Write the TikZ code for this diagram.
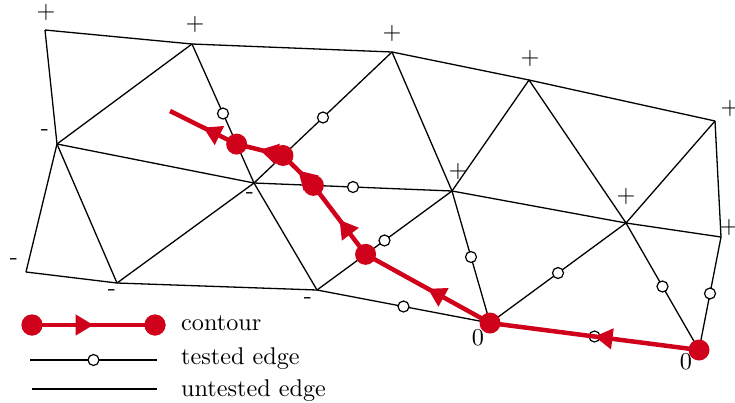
\documentclass[tikz,border=0pt]{standalone}
\usepackage{graphicx}
\usetikzlibrary{calc,arrows.meta,decorations.markings}
\definecolor{cred}{RGB}{208,2,27}
\newcommand{\bigtxt}[1]{\scalebox{2.42}{#1}}
\begin{document}
\begin{tikzpicture}[x=1pt,y=-1pt,
  edge/.style={line width=1.3pt},
  tmark/.style={circle,draw,fill=white,line width=1.2pt,inner sep=0pt,minimum size=11pt},
  cseg/.style={cred,line width=4.5pt,postaction={decorate},
    decoration={markings,mark=at position 0.5 with {\arrow{Triangle[length=18pt,width=20pt,color=cred,fill=cred]}}}},
  cdot/.style={circle,fill=cred,inner sep=0pt,minimum size=21pt},
  lab/.style={font=\fontsize{10}{12}\selectfont,inner sep=0pt},
  legtext/.style={font=\fontsize{10}{12}\selectfont,inner sep=0pt,anchor=base west}
]
\useasboundingbox (0,0) rectangle (735,402);
% vertices
\coordinate (A) at (45,30);
\coordinate (B) at (192,44);
\coordinate (C) at (392,52);
\coordinate (D) at (529,80);
\coordinate (E) at (715,121);
\coordinate (F) at (57,144);
\coordinate (G) at (254,183);
\coordinate (H) at (452,191);
\coordinate (I) at (626,223);
\coordinate (J) at (721,237);
\coordinate (K) at (26,272);
\coordinate (L) at (117,283);
\coordinate (M) at (317,290);
\coordinate (N) at (490,323);
\coordinate (O) at (699,350);
% vertex labels
\node[lab] (lA) at (46,12) {\bigtxt{+}};
\node[lab] (lB) at (195,24) {\bigtxt{+}};
\node[lab] (lC) at (392,33) {\bigtxt{+}};
\node[lab] (lD) at (530,58) {\bigtxt{+}};
\node[lab] (lE) at (730,108) {\bigtxt{+}};
\node[lab] (lH) at (458,171) {\bigtxt{+}};
\node[lab] (lI) at (626,196) {\bigtxt{+}};
\node[lab] (lJ) at (729,227) {\bigtxt{+}};
\node[lab] (lF) at (45,133) {\bigtxt{-}};
\node[lab] (lG) at (250,196) {\bigtxt{-}};
\node[lab] (lK) at (14,262) {\bigtxt{-}};
\node[lab] (lL) at (112,293) {\bigtxt{-}};
\node[lab] (lM) at (308,301) {\bigtxt{-}};
\node[lab] (lN) at (478,338) {\bigtxt{0}};
\node[lab] (lO) at (686,362) {\bigtxt{0}};
% untested edges
\draw[edge] (A) -- (B) -- (C) -- (D) -- (E);
\draw[edge] (A) -- (F);
\draw[edge] (F) -- (B);
\draw[edge] (F) -- (K);
\draw[edge] (F) -- (L);
\draw[edge] (F) -- (G);
\draw[edge] (G) -- (L);
\draw[edge] (G) -- (M);
\draw[edge] (C) -- (H);
\draw[edge] (H) -- (D);
\draw[edge] (D) -- (I);
\draw[edge] (H) -- (I);
\draw[edge] (I) -- (J);
\draw[edge] (I) -- (E);
\draw[edge] (E) -- (J);
\draw[edge] (K) -- (L);
\draw[edge] (L) -- (M);
% tested edges
\draw[edge] (B) -- node[tmark] (tBG) {} (G);
\draw[edge] (C) -- node[tmark] (tCG) {} (G);
\draw[edge] (G) -- node[tmark] (tGH) {} (H);
\draw[edge] (M) -- node[tmark] (tMH) {} (H);
\draw[edge] (M) -- node[tmark] (tMN) {} (N);
\draw[edge] (H) -- node[tmark] (tHN) {} (N);
\draw[edge] (N) -- node[tmark] (tNI) {} (I);
\draw[edge] (I) -- node[tmark] (tIO) {} (O);
\draw[edge] (J) -- node[tmark] (tJO) {} (O);
\draw[edge] (N) -- node[tmark] (tNO) {} (O);
% contour points
\coordinate (P) at ($(M)!0.36!(H)$);
\coordinate (Q) at ($(G)!0.30!(H)$);
\coordinate (R) at ($(G)!0.21!(C)$);
\coordinate (S) at ($(G)!0.28!(B)$);
\coordinate (T) at (170,111);
\draw[cseg] (O) -- (N);
\draw[cseg] (N) -- (P);
\draw[cseg] (P) -- (Q);
\draw[cseg] (Q) -- (R);
\draw[cseg] (R) -- (S);
\draw[cseg] (S) -- (T);
\node[cdot] (dO) at (O) {};
\node[cdot] (dN) at (N) {};
\node[cdot] (dP) at (P) {};
\node[cdot] (dQ) at (Q) {};
\node[cdot] (dR) at (R) {};
\node[cdot] (dS) at (S) {};
% legend
\node[cdot] (g1a) at (32,325) {};
\node[cdot] (g1b) at (155,325) {};
\draw[cseg] (g1a.center) -- (g1b.center);
\node[cdot] at (g1a) {};
\node[cdot] at (g1b) {};
\coordinate (g2a) at (30,360);
\coordinate (g2b) at (157,360);
\draw[edge] (g2a) -- node[tmark] (g2m) {} (g2b);
\coordinate (g3a) at (32,389);
\coordinate (g3b) at (157,389);
\draw[edge] (g3a) -- (g3b);
\node[legtext] (t1) at (181,330) {\bigtxt{contour}};
\node[legtext] (t2) at (181,364) {\bigtxt{tested edge}};
\node[legtext] (t3) at (181,396) {\bigtxt{untested edge}};
\end{tikzpicture}
\end{document}
